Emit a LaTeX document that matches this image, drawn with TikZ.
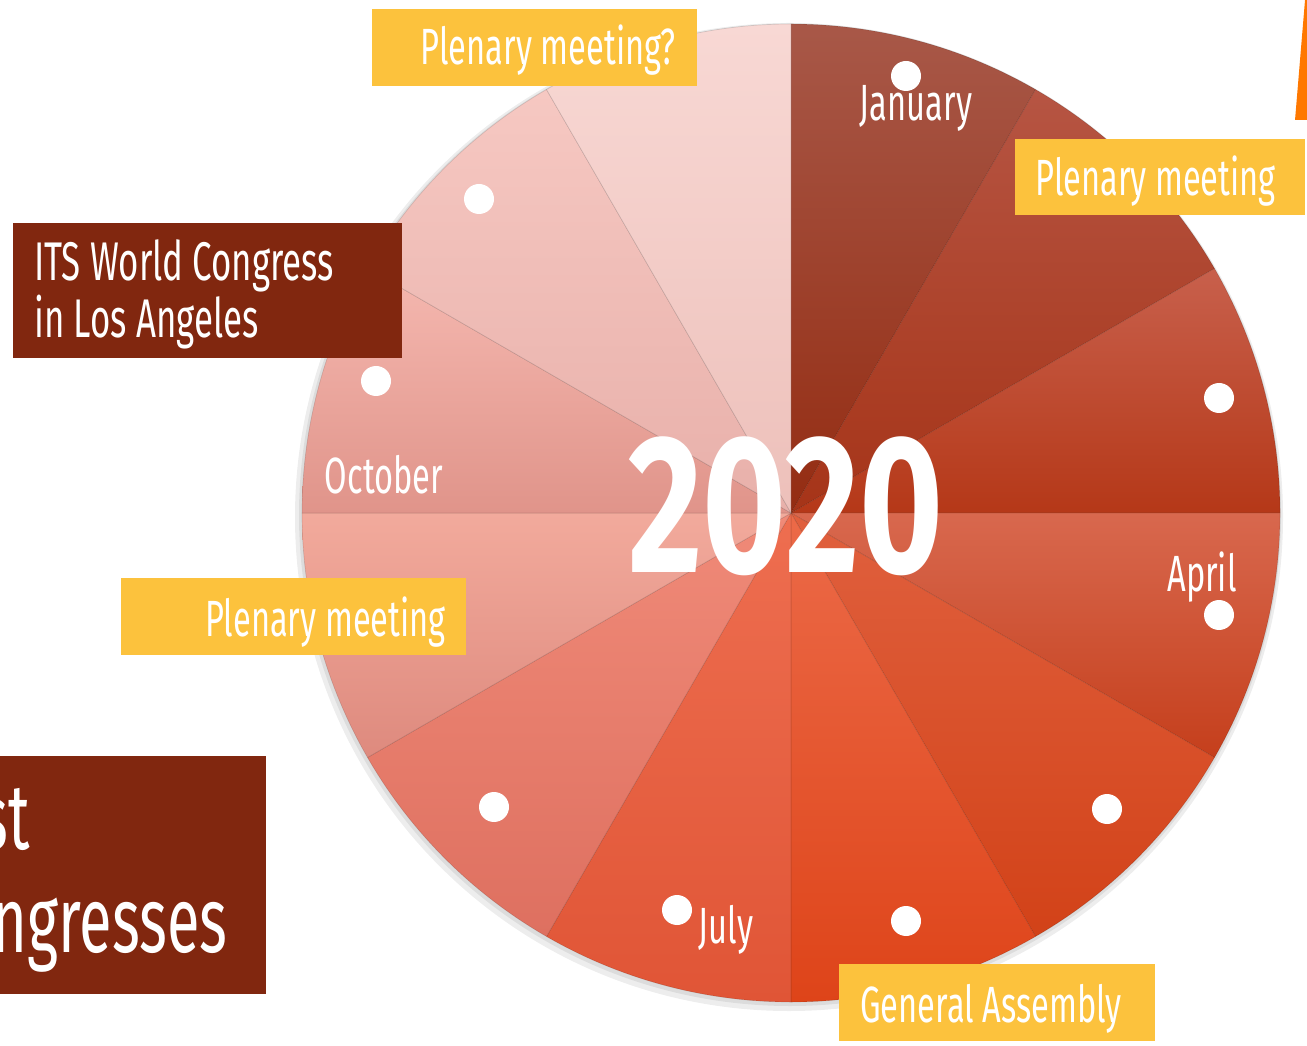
\documentclass[tikz,border=0pt]{standalone}
\usepackage{fontspec}
\setmainfont[FakeStretch=0.64]{Fira Sans}
\newfontfamily\yearfont[FakeStretch=0.73]{Fira Sans}
\usepackage{xcolor}
\usepackage{tikz}
\usetikzlibrary{positioning, calc}
\definecolor{eventfill}{RGB}{252,194,61}
\definecolor{congressfill}{RGB}{129,39,15}
\definecolor{arrowfill}{RGB}{255,120,0}
\definecolor{janT}{HTML}{A85848}\definecolor{janB}{HTML}{942C12}
\definecolor{febT}{HTML}{B65543}\definecolor{febB}{HTML}{A63418}
\definecolor{marT}{HTML}{C8604C}\definecolor{marB}{HTML}{B53818}
\definecolor{aprT}{HTML}{D8684E}\definecolor{aprB}{HTML}{C53F1C}
\definecolor{mayT}{HTML}{E0603E}\definecolor{mayB}{HTML}{D24218}
\definecolor{junT}{HTML}{EC6A48}\definecolor{junB}{HTML}{DE4419}
\definecolor{julT}{HTML}{EE6E50}\definecolor{julB}{HTML}{E05536}
\definecolor{augT}{HTML}{F08A78}\definecolor{augB}{HTML}{DE7060}
\definecolor{sepT}{HTML}{F2AA9C}\definecolor{sepB}{HTML}{DE8A7E}
\definecolor{octT}{HTML}{F5B8B0}\definecolor{octB}{HTML}{E0948A}
\definecolor{novT}{HTML}{F6C8C2}\definecolor{novB}{HTML}{E8B0AA}
\definecolor{decT}{HTML}{F8D8D4}\definecolor{decB}{HTML}{EDC0BA}
\tikzset{
    slice/.style={
        draw=black,
        draw opacity=0.12,
        line width=0.4pt
    },
    monthdot/.style={
        circle,
        fill=white,
        inner sep=0pt,
        minimum size=0.6cm
    },
    monthlabel/.style={
        text=white,
        inner sep=0pt,
        anchor=base,
        font=\fontsize{29}{34}\selectfont
    },
    yearlabel/.style={
        text=white,
        inner sep=0pt,
        anchor=base,
        font=\fontsize{112}{112}\selectfont\yearfont\bfseries
    },
    eventbox/.style={
        fill=eventfill
    },
    congressbox/.style={
        fill=congressfill
    },
    eventtext/.style={
        text=white,
        inner sep=0pt,
        font=\fontsize{29}{34}\selectfont
    },
    congresstext/.style={
        eventtext,
        anchor=base west,
        font=\fontsize{31}{36}\selectfont
    },
    pasttext/.style={
        eventtext,
        anchor=base east,
        font=\fontsize{53}{58}\selectfont
    }
}

\begin{document}
\begin{tikzpicture}[x=0.02cm, y=0.02cm]

\useasboundingbox (0,0) rectangle (1307,1045);
\coordinate (centre) at (791,532);

% Shadow
\fill[black, opacity=0.07] ($(centre)+(-2,-4)$) circle (494);
\fill[black, opacity=0.07] ($(centre)+(-1,-2)$) circle (491);

% Slices
\foreach \a/\tc/\bc in {90/janT/janB, 60/febT/febB, 30/marT/marB, 0/aprT/aprB,
    -30/mayT/mayB, -60/junT/junB, -90/julT/julB, -120/augT/augB,
    -150/sepT/sepB, 180/octT/octB, 150/novT/novB, 120/decT/decB}
  \path[slice, top color=\tc, bottom color=\bc]
    (centre) -- ++(\a:489) arc[start angle=\a, end angle=\a-30, radius=489] -- cycle;

% Dots
\node[monthdot] (dotjan) at (906,969) {};
\node[monthdot] (dotmar) at (1219,647) {};
\node[monthdot] (dotapr) at (1219,430) {};
\node[monthdot] (dotmay) at (1107,236) {};
\node[monthdot] (dotjun) at (906,124) {};
\node[monthdot] (dotjul) at (677,135) {};
\node[monthdot] (dotaug) at (494,238) {};
\node[monthdot] (dotoct) at (376,664) {};
\node[monthdot] (dotnov) at (479,846) {};

% Months
\node[monthlabel] (jan) at (916,924) {January};
\node[monthlabel] (apr) at (1202,453) {April};
\node[monthlabel] (jul) at (726,102) {July};
\node[monthlabel] (oct) at (384,551) {October};
\node[yearlabel] (year) at (786,472) {2020};

% Events
\fill[eventbox] (372,959) rectangle (697,1036);
\node[eventtext, anchor=base east] (plenq) at (676,980) {Plenary meeting?};
\fill[eventbox] (1015,830) rectangle (1305,906);
\node[eventtext, anchor=base west] (plenfeb) at (1035,849) {Plenary meeting};
\fill[eventbox] (121,390) rectangle (466,467);
\node[eventtext, anchor=base east] (plensep) at (446,409) {Plenary meeting};
\fill[eventbox] (839,4) rectangle (1155,81);
\node[eventtext, anchor=base west] (genass) at (860,23) {General Assembly};

% Congresses
\fill[congressbox] (13,687) rectangle (402,822);
\node[congresstext] (its) at (34,764) {ITS World Congress};
\node[congresstext] (la) at (34,707) {in Los Angeles};
\fill[congressbox] (-10,51) rectangle (266,289);
\node[pasttext] (past) at (30,196) {st};
\node[pasttext] (congr) at (228,93) {ngresses};

% Arrow tip
\fill[arrowfill] (1295,925) -- (1307,925) -- (1307,1045) -- (1305,1045) -- cycle;

\end{tikzpicture}
\end{document}
